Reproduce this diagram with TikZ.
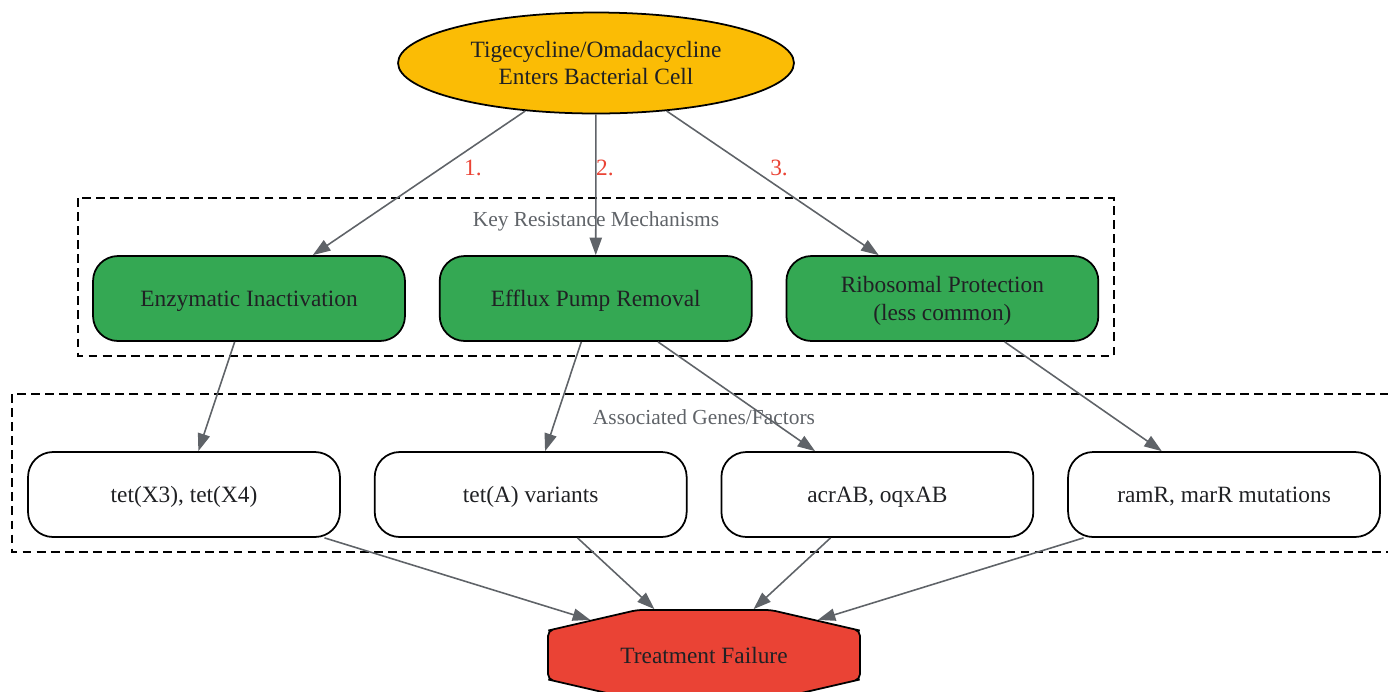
\documentclass[tikz,border=0pt]{standalone}
\usepackage{fontspec}
\setmainfont{Liberation Serif}
\usetikzlibrary{arrows.meta,shapes.geometric,shapes.misc,positioning}

\definecolor{gyellow}{HTML}{FBBC05}
\definecolor{ggreen}{HTML}{34A853}
\definecolor{gred}{HTML}{EA4335}
\definecolor{ggrey}{HTML}{5F6368}
\definecolor{gtext}{HTML}{202124}

\tikzset{
  entry/.style={ellipse,draw,line width=1pt,fill=gyellow,text=gtext,align=center,
    minimum width=7.92cm,minimum height=2.02cm,inner sep=0pt,
    font=\fontsize{13.3}{15.5}\selectfont},
  mech/.style={rectangle,rounded corners=0.5cm,draw,line width=1pt,fill=ggreen,
    text=gtext,align=center,minimum width=6.24cm,minimum height=1.7cm,
    text depth=0pt},
  gene/.style={mech,fill=white},
  fail/.style={chamfered rectangle,chamfered rectangle angle=77,
    chamfered rectangle ysep=0.44cm,rounded corners=3pt,draw,line width=1pt,
    fill=gred,text=gtext,minimum width=6.24cm,minimum height=1.8cm,
    inner sep=0pt,text depth=0pt},
  link/.style={draw=ggrey,line width=0.9pt,-{Triangle[length=10pt,width=7pt]}},
  elabel/.style={text=gred},
  cluster/.style={draw,line width=0.9pt,dash pattern=on 5pt off 3pt},
  clabel/.style={text=ggrey,font=\fontsize{12.2}{14}\selectfont},
}

\begin{document}
\begin{tikzpicture}[x=0.02cm,y=-0.02cm,font=\fontsize{13.3}{16}\selectfont]
  \useasboundingbox (0,0) rectangle (1388,691);

  % clusters
  \draw[cluster] (78,198) rectangle (1114,356);
  \node[clabel] (keylbl) at (596,221) {Key Resistance Mechanisms};
  \draw[cluster] (12,394) rectangle (1400,552);
  \node[clabel] (genlbl) at (704,417) {Associated Genes/Factors};

  % nodes
  \node[entry] (cell) at (596,63) {Tigecycline/Omadacycline\\Enters Bacterial Cell};

  \node[mech] (enz) at (249,298.5) {Enzymatic Inactivation};
  \node[mech,right=0.66cm of enz] (eff) {Efflux Pump Removal};
  \node[mech,right=0.66cm of eff] (rib) {Ribosomal Protection\\(less common)};

  \node[gene] (tetx) at (184,494.5) {tet(X3), tet(X4)};
  \node[gene,right=0.66cm of tetx] (teta) {tet(A) variants};
  \node[gene,right=0.66cm of teta] (acr) {acrAB, oqxAB};
  \node[gene,right=0.66cm of acr] (ram) {ramR, marR mutations};

  \node[fail] (tf) at (704,655) {Treatment Failure};

  % edges
  \draw[link] (cell) -- (enz);
  \draw[link] (cell) -- (eff);
  \draw[link] (cell) -- (rib);
  \node[elabel] (n1) at (473,168) {1.};
  \node[elabel] (n2) at (605,168) {2.};
  \node[elabel] (n3) at (779,168) {3.};

  \draw[link] (enz) -- (tetx);
  \draw[link] (eff) -- (teta);
  \draw[link] (eff) -- (acr);
  \draw[link] (rib) -- (ram);

  \draw[link] (tetx) -- (tf);
  \draw[link] (teta) -- (tf);
  \draw[link] (acr) -- (tf);
  \draw[link] (ram) -- (tf);
\end{tikzpicture}
\end{document}
